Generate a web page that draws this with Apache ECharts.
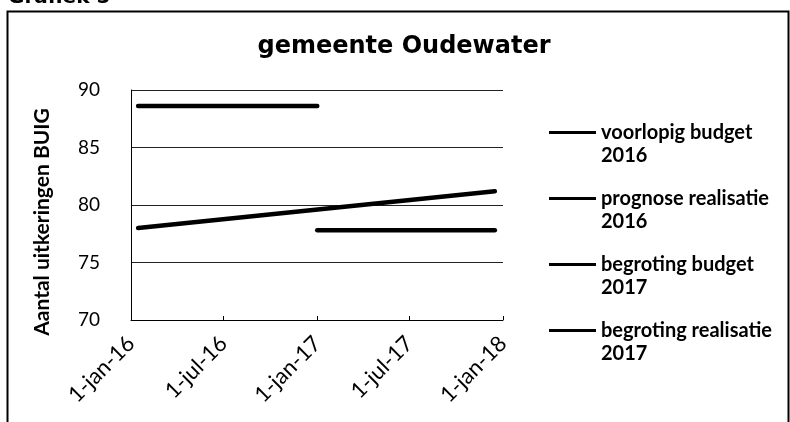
<!DOCTYPE html>
<html><head><meta charset="utf-8">
<script src="https://cdn.jsdelivr.net/npm/echarts@6/dist/echarts.min.js"></script>
<style>html,body{margin:0;padding:0;background:#fff}#c{width:790px;height:422px}</style>
</head><body><div id="c"></div>
<script>
const seriesNames = ['voorlopig budget\n2016', 'prognose realisatie\n2016', 'begroting budget\n2017', 'begroting realisatie\n2017'];
const voorlopigBudget2016 = [['2016-01-15', 88.6], ['2017-01-01', 88.6]];
const prognoseRealisatie2016 = [['2016-01-15', 78.0], ['2017-12-16', 81.2]];
const begrotingBudget2017 = [['2017-01-01', 77.8], ['2017-12-16', 77.8]];
const begrotingRealisatie2017 = [];
const xTickDates = ['2016-01-01', '2016-07-01', '2017-01-01', '2017-07-01', '2018-01-01'];
const xTickLabels = ['1-jan-16', '1-jul-16', '1-jan-17', '1-jul-17', '1-jan-18'];
const yTicks = [70, 75, 80, 85, 90];

const ts = d => Date.UTC(+d.slice(0,4), +d.slice(5,7)-1, +d.slice(8,10));
const toPts = arr => arr.map(p => [ts(p[0]), p[1]]);
const tickTs = xTickDates.map(ts);
const allData = [voorlopigBudget2016, prognoseRealisatie2016, begrotingBudget2017, begrotingRealisatie2017];

const chart = echarts.init(document.getElementById('c'), null, {renderer: 'canvas'});
chart.setOption({
  animation: false,
  backgroundColor: '#fff',
  title: {
    text: 'gemeente Oudewater', left: 399, top: 30, textAlign: 'center',
    textStyle: {fontFamily: 'DejaVu Sans', fontWeight: 'bold', fontSize: 24, color: '#000'}
  },
  graphic: [
    {type: 'rect', shape: {x: 7.5, y: 11.5, width: 781, height: 430}, style: {fill: 'none', stroke: '#000', lineWidth: 2}, silent: true},
    {type: 'text', left: 8, top: -12, style: {text: 'Grafiek 5', fontFamily: 'DejaVu Sans', fontWeight: 'bold', fontSize: 20, fill: '#000'}}
  ],
  grid: {left: 131, right: 287, top: 90, bottom: 102, containLabel: false},
  legend: {
    orient: 'vertical', left: 549, top: 98, padding: 0, itemGap: -3,
    itemWidth: 47, itemHeight: 10,
    icon: 'path://M0,3.5 L47,3.5 L47,6.5 L0,6.5 Z',
    data: seriesNames,
    formatter: n => ' \n' + n,
    textStyle: {fontFamily: 'Lato', fontWeight: 'bold', fontSize: 20, color: '#000', lineHeight: 23}
  },
  xAxis: {
    type: 'value', min: tickTs[0], max: tickTs[tickTs.length-1],
    axisLine: {show: true, lineStyle: {color: '#000', width: 1}},
    axisTick: {show: true, customValues: tickTs, length: 4, inside: true, lineStyle: {color: '#000'}},
    axisLabel: {
      customValues: tickTs, rotate: 45, margin: 20,
      fontFamily: 'Lato', fontSize: 22, color: '#000',
      formatter: v => xTickLabels[tickTs.indexOf(v)] || ''
    },
    splitLine: {show: false}
  },
  yAxis: {
    type: 'value', min: yTicks[0], max: yTicks[yTicks.length-1], interval: 5,
    name: 'Aantal uitkeringen BUIG', nameLocation: 'middle', nameGap: 78, nameRotate: 90,
    nameTextStyle: {fontFamily: 'Lato', fontWeight: 'bold', fontSize: 21, color: '#000', padding: [0, 34, 0, 0]},
    axisLine: {show: true, lineStyle: {color: '#000', width: 1}},
    axisTick: {show: false},
    axisLabel: {fontFamily: 'Lato', fontSize: 19, color: '#000', margin: 31},
    splitLine: {show: true, lineStyle: {color: '#222', width: 1}}
  },
  series: allData.map((d, i) => ({
    name: seriesNames[i], type: 'line', data: toPts(d),
    showSymbol: false, symbol: 'none',
    lineStyle: {color: '#000', width: 4.5, cap: 'round'},
    itemStyle: {color: '#000'}
  }))
});
</script></body></html>
